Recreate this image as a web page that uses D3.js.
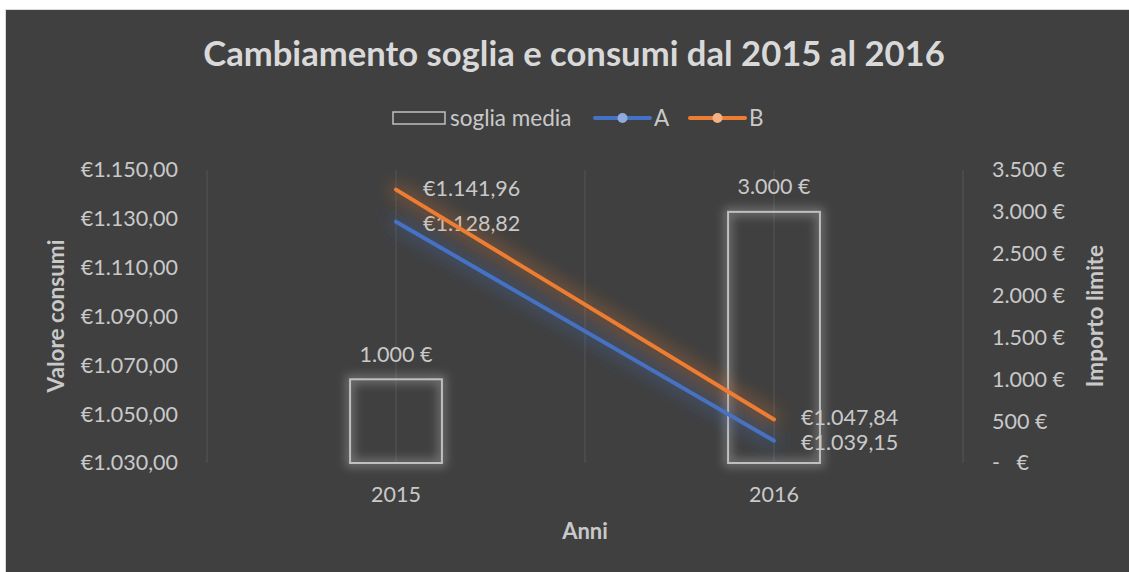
<!DOCTYPE html>
<html>
<head>
<meta charset="utf-8">
<script src="https://cdn.jsdelivr.net/npm/d3@7"></script>
<style>
  html, body { margin: 0; padding: 0; background: #ffffff; }
  svg { display: block; font-family: Lato, 'Open Sans', sans-serif; }
</style>
</head>
<body>
<svg id="chart" width="1129" height="572"></svg>
<script>
var categories = ['2015', '2016'];
var sogliaMedia = [1000, 3000];
var seriesA = [1128.82, 1039.15];
var seriesB = [1141.96, 1047.84];
var leftTicks = [1030, 1050, 1070, 1090, 1110, 1130, 1150];
var rightTicks = [0, 500, 1000, 1500, 2000, 2500, 3000, 3500];

var W = 1129, H = 572;
var plot = { left: 207, right: 963, top: 170, bottom: 463 };
var BLUE = '#4472c4', ORANGE = '#ed7d31';
var TEXT = '#c9c9c9', TITLE = '#d9d9d9';
var FS = 21.5;

var itLeft = d3.formatLocale({ decimal: ',', thousands: '.', grouping: [3], currency: ['€', ''] });
var itRight = d3.formatLocale({ decimal: ',', thousands: '.', grouping: [3], currency: ['', ' €'] });
var fmtConsumi = itLeft.format('$,.2f');
var fmtLimite = function(v) { return v === 0 ? '-   €' : itRight.format('$,.0f')(v); };

var svg = d3.select('#chart');
var defs = svg.append('defs');

// soft glow: widen the stroke, blur it and put it under the original
function glow(id, spread, std, opacity) {
  var f = defs.append('filter').attr('id', id)
    .attr('filterUnits', 'userSpaceOnUse')
    .attr('x', 0).attr('y', 0).attr('width', W).attr('height', H);
  f.append('feMorphology').attr('in', 'SourceGraphic').attr('operator', 'dilate').attr('radius', spread).attr('result', 'wide');
  f.append('feGaussianBlur').attr('in', 'wide').attr('stdDeviation', std).attr('result', 'blur');
  f.append('feComponentTransfer').attr('in', 'blur').attr('result', 'soft')
    .append('feFuncA').attr('type', 'linear').attr('slope', opacity);
  var m = f.append('feMerge');
  m.append('feMergeNode').attr('in', 'soft');
  m.append('feMergeNode').attr('in', 'SourceGraphic');
}
glow('lineGlow', 3, 9, 0.38);
glow('barGlow', 3, 5, 0.4);

// chart area
svg.append('rect')
  .attr('x', 5.5).attr('y', 9.5)
  .attr('width', W).attr('height', H)
  .attr('fill', '#404040')
  .attr('stroke', '#d9d9d9');

var x = d3.scaleBand().domain(categories).range([plot.left, plot.right]);
var xc = function(d) { return x(d) + x.bandwidth() / 2; };
var yL = d3.scaleLinear().domain([1030, 1150]).range([plot.bottom, plot.top]);
var yR = d3.scaleLinear().domain([0, 3500]).range([plot.bottom, plot.top]);

// vertical gridlines at band edges and centres
var gridX = [plot.left].concat(categories.map(xc), categories.map(function(d) { return x(d) + x.bandwidth(); }));
svg.append('g').selectAll('line')
  .data(gridX)
  .enter()
  .append('line')
  .attr('x1', function(d) { return d; })
  .attr('x2', function(d) { return d; })
  .attr('y1', plot.top)
  .attr('y2', plot.bottom)
  .attr('stroke', '#555555')
  .attr('stroke-width', 1);

// left axis
var leftAxis = svg.append('g')
  .attr('transform', 'translate(178,0)')
  .call(d3.axisLeft(yL).tickValues(leftTicks).tickSize(0).tickPadding(0).tickFormat(fmtConsumi));
leftAxis.select('.domain').remove();
leftAxis.selectAll('text').attr('fill', TEXT).attr('font-size', FS).attr('font-family', 'Lato');

// right axis
var rightAxis = svg.append('g')
  .attr('transform', 'translate(992,0)')
  .call(d3.axisRight(yR).tickValues(rightTicks).tickSize(0).tickPadding(0).tickFormat(fmtLimite));
rightAxis.select('.domain').remove();
rightAxis.selectAll('text').attr('fill', TEXT).attr('font-size', FS).attr('font-family', 'Lato')
  .style('white-space', 'pre');

// bottom axis
var bottomAxis = svg.append('g')
  .attr('transform', 'translate(0,' + (plot.bottom + 24) + ')')
  .call(d3.axisBottom(x).tickSize(0).tickPadding(0));
bottomAxis.select('.domain').remove();
bottomAxis.selectAll('text').attr('fill', TEXT).attr('font-size', FS).attr('font-family', 'Lato');

// soglia media bars
var barW = x.bandwidth() * 0.243;
svg.append('g').attr('filter', 'url(#barGlow)')
  .selectAll('rect')
  .data(sogliaMedia)
  .enter()
  .append('rect')
  .attr('x', function(d, i) { return xc(categories[i]) - barW / 2; })
  .attr('y', function(d) { return yR(d); })
  .attr('width', barW)
  .attr('height', function(d) { return yR(0) - yR(d); })
  .attr('fill', 'none')
  .attr('stroke', '#bfbfbf')
  .attr('stroke-width', 2);

svg.append('g').selectAll('text')
  .data(sogliaMedia)
  .enter()
  .append('text')
  .attr('x', function(d, i) { return xc(categories[i]); })
  .attr('y', function(d) { return yR(d) - 25; })
  .attr('text-anchor', 'middle')
  .attr('dy', '0.35em')
  .attr('fill', TEXT)
  .attr('font-size', FS)
  .text(fmtLimite);

// lines
var line = d3.line()
  .x(function(d, i) { return xc(categories[i]); })
  .y(function(d) { return yL(d); });

[[seriesA, BLUE, 1.5], [seriesB, ORANGE, -1.5]].forEach(function(s) {
  svg.append('path')
    .datum(s[0])
    .attr('d', line)
    .attr('fill', 'none')
    .attr('stroke', s[1])
    .attr('stroke-width', 4)
    .attr('stroke-linecap', 'round')
    .attr('filter', 'url(#lineGlow)');

  svg.append('g').selectAll('text')
    .data(s[0])
    .enter()
    .append('text')
    .attr('x', function(d, i) { return xc(categories[i]) + 27; })
    .attr('y', function(d) { return yL(d) + s[2]; })
    .attr('dy', '0.35em')
    .attr('fill', TEXT)
    .attr('font-size', FS)
    .text(fmtConsumi);
});

// title
var title = svg.append('text')
  .attr('x', 574)
  .attr('y', 66)
  .attr('text-anchor', 'middle')
  .attr('fill', TITLE)
  .attr('font-weight', 'bold')
  .attr('font-size', 30)
  .text('Cambiamento soglia e consumi dal 2015 al 2016');
var tw = title.node().getComputedTextLength();
title.attr('font-size', 30 * 742 / tw);

// axis titles
svg.append('text')
  .attr('transform', 'translate(56,316) rotate(-90)')
  .attr('text-anchor', 'middle')
  .attr('dy', '0.35em')
  .attr('fill', TEXT)
  .attr('font-weight', 'bold')
  .attr('font-size', 22.5)
  .text('Valore consumi');

svg.append('text')
  .attr('transform', 'translate(1095,316) rotate(-90)')
  .attr('text-anchor', 'middle')
  .attr('dy', '0.35em')
  .attr('fill', TEXT)
  .attr('font-weight', 'bold')
  .attr('font-size', 22.5)
  .text('Importo limite');

svg.append('text')
  .attr('x', 585)
  .attr('y', 531)
  .attr('text-anchor', 'middle')
  .attr('dy', '0.35em')
  .attr('fill', TEXT)
  .attr('font-weight', 'bold')
  .attr('font-size', 22)
  .text('Anni');

// legend
var legend = svg.append('g').attr('transform', 'translate(0,118)');
legend.append('rect')
  .attr('x', 393).attr('y', -6)
  .attr('width', 52).attr('height', 12)
  .attr('fill', 'none')
  .attr('stroke', '#bfbfbf')
  .attr('stroke-width', 1.5);
legend.append('text')
  .attr('x', 450).attr('dy', '0.35em')
  .attr('fill', TEXT).attr('font-size', 22.5)
  .text('soglia media');

var lineKeys = [
  { label: 'A', color: BLUE, marker: '#8faadc', x: 595 },
  { label: 'B', color: ORANGE, marker: '#f4b183', x: 690 }
];
var keys = legend.selectAll('.series')
  .data(lineKeys)
  .enter()
  .append('g')
  .attr('class', 'series')
  .attr('transform', function(d) { return 'translate(' + d.x + ',0)'; });
keys.append('line')
  .attr('x1', 0).attr('x2', 55)
  .attr('stroke', function(d) { return d.color; })
  .attr('stroke-width', 4)
  .attr('stroke-linecap', 'round');
keys.append('circle')
  .attr('cx', 27.5).attr('r', 5)
  .attr('fill', function(d) { return d.marker; });
keys.append('text')
  .attr('x', 59).attr('dy', '0.35em')
  .attr('fill', TEXT).attr('font-size', 22.5)
  .text(function(d) { return d.label; });
</script>
</body>
</html>
